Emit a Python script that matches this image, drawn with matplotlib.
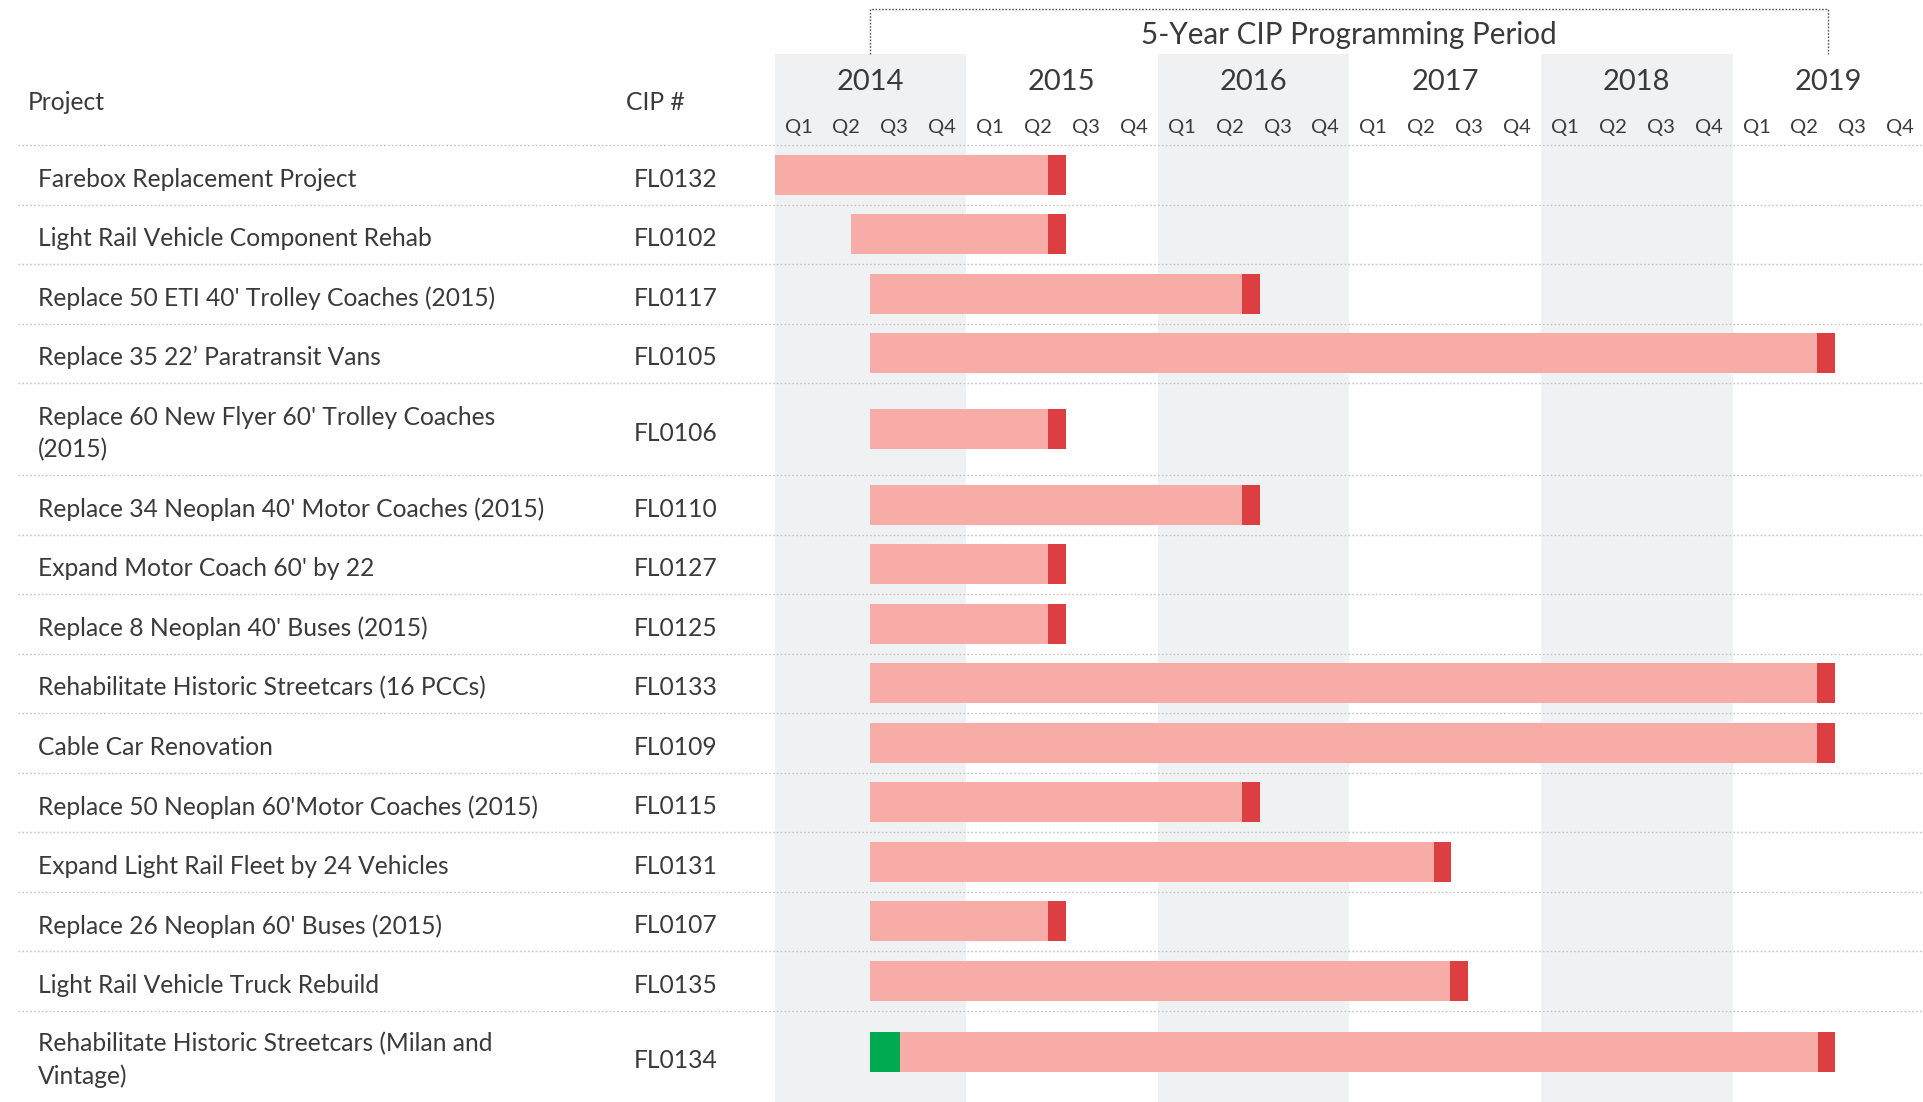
import matplotlib
matplotlib.use("Agg")
import matplotlib.pyplot as plt
from matplotlib.transforms import blended_transform_factory

# ---------------- data ----------------
projects = [
    "Farebox Replacement Project",
    "Light Rail Vehicle Component Rehab",
    "Replace 50 ETI 40' Trolley Coaches (2015)",
    "Replace 35 22\u2019 Paratransit Vans",
    "Replace 60 New Flyer 60' Trolley Coaches\n(2015)",
    "Replace 34 Neoplan 40' Motor Coaches (2015)",
    "Expand Motor Coach 60' by 22",
    "Replace 8 Neoplan 40' Buses (2015)",
    "Rehabilitate Historic Streetcars (16 PCCs)",
    "Cable Car Renovation",
    "Replace 50 Neoplan 60'Motor Coaches (2015)",
    "Expand Light Rail Fleet by 24 Vehicles",
    "Replace 26 Neoplan 60' Buses (2015)",
    "Light Rail Vehicle Truck Rebuild",
    "Rehabilitate Historic Streetcars (Milan and\nVintage)",
]
cip_ids = ["FL0132", "FL0102", "FL0117", "FL0105", "FL0106", "FL0110", "FL0127",
           "FL0125", "FL0133", "FL0109", "FL0115", "FL0131", "FL0107", "FL0135", "FL0134"]
# timeline in quarters since 2014 Q1
start_q = [0.0, 1.6, 2.0, 2.0, 2.0, 2.0, 2.0, 2.0, 2.0, 2.0, 2.0, 2.0, 2.0, 2.0, 2.0]
phase_end_q = [5.72, 5.72, 9.76, 21.77, 5.72, 9.76, 5.72, 5.72, 21.77, 21.77,
               9.76, 13.76, 5.72, 14.10, 21.78]
finish_len_q = [0.37] * 15
green_end_q = [None] * 14 + [2.63]

years = ["2014", "2015", "2016", "2017", "2018", "2019"]
quarters = ["Q1", "Q2", "Q3", "Q4"]
period_title = "5-Year CIP Programming Period"

# ---------------- style ----------------
W, H = 1924, 1102
PINK = "#f7aca7"
RED = "#dc3e42"
GREEN = "#00aa4f"
BAND = "#f0f1f3"
TXT = "#3a3a3a"
FONT = ["Lato", "DejaVu Sans"]
FS = 17.7

fig = plt.figure(figsize=(W / 100, H / 100), dpi=100)
ax = fig.add_axes([0, 0, 1, 1])
QW = 47.9            # px per quarter
X0 = 774.5           # px of 2014 Q1 start
ax.set_xlim(-X0 / QW, (W - X0) / QW)
ax.set_ylim(H, 0)
ax.axis("off")
tr = blended_transform_factory(ax.transAxes, ax.transData)

# row geometry (pixel units on y)
header_line = 145
row_h = [92 if "\n" in p else 59.5 for p in projects]
row_h[-1] = 83  # last row is cropped by the image bottom
tops = []
y = header_line
for h in row_h:
    tops.append(y)
    y += h
centers = [t + h / 2 for t, h in zip(tops, row_h)]
text_off = [4.5] * (len(projects) - 1) + [8.0]

# year bands
for i in range(0, len(years), 2):
    ax.add_patch(plt.Rectangle((i * 4, 54), 4, H - 54, color=BAND, lw=0, zorder=0))

# separators
sep_kw = dict(color="#c4c4c4", lw=1.0, linestyle=(0, (1.2, 1.6)), zorder=1)
for yy in [header_line] + [t + h for t, h in zip(tops, row_h)][:-1]:
    ax.plot([18 / W, 1.0], [yy, yy], transform=tr, **sep_kw)

# bars
BAR_H = 40
for i in range(len(projects)):
    c = centers[i]
    s = start_q[i]
    e = phase_end_q[i]
    ax.barh(c, e - s, left=s, height=BAR_H, color=PINK, lw=0, zorder=2)
    ax.barh(c, finish_len_q[i], left=e, height=BAR_H, color=RED, lw=0, zorder=3)
    if green_end_q[i] is not None:
        ax.barh(c, green_end_q[i] - s, left=s, height=BAR_H, color=GREEN, lw=0, zorder=3)

# left text columns
for i, (p, cid) in enumerate(zip(projects, cip_ids)):
    ty = centers[i] + text_off[i]
    ax.text(38 / W, ty, p, transform=tr, ha="left", va="center",
            fontsize=FS, color=TXT, family=FONT, linespacing=1.45)
    ax.text(634 / W, ty, cid, transform=tr, ha="left", va="center",
            fontsize=FS, color=TXT, family=FONT)
ax.text(28 / W, 103, "Project", transform=tr, ha="left", va="center",
        fontsize=FS, color=TXT, family=FONT)
ax.text(626 / W, 103, "CIP #", transform=tr, ha="left", va="center",
        fontsize=FS, color=TXT, family=FONT)

# year / quarter headers
for i, yr in enumerate(years):
    ax.text(i * 4 + 2, 82, yr, ha="center", va="center", fontsize=21, color=TXT, family=FONT)
    for j, q in enumerate(quarters):
        ax.text(i * 4 + j + 0.5, 127, q, ha="center", va="center", fontsize=14.5,
                color=TXT, family=FONT)

# 5-year bracket
bx0, bx1 = 2, 22
br_kw = dict(color="#555555", lw=1.0, linestyle=(0, (1.2, 1.2)), zorder=4)
ax.plot([bx0, bx0, bx1, bx1], [54, 9, 9, 54], **br_kw)
ax.text((bx0 + bx1) / 2, 35, period_title, ha="center", va="center", fontsize=21.3,
        color=TXT, family=FONT)

fig.savefig("out.png", dpi=100)
